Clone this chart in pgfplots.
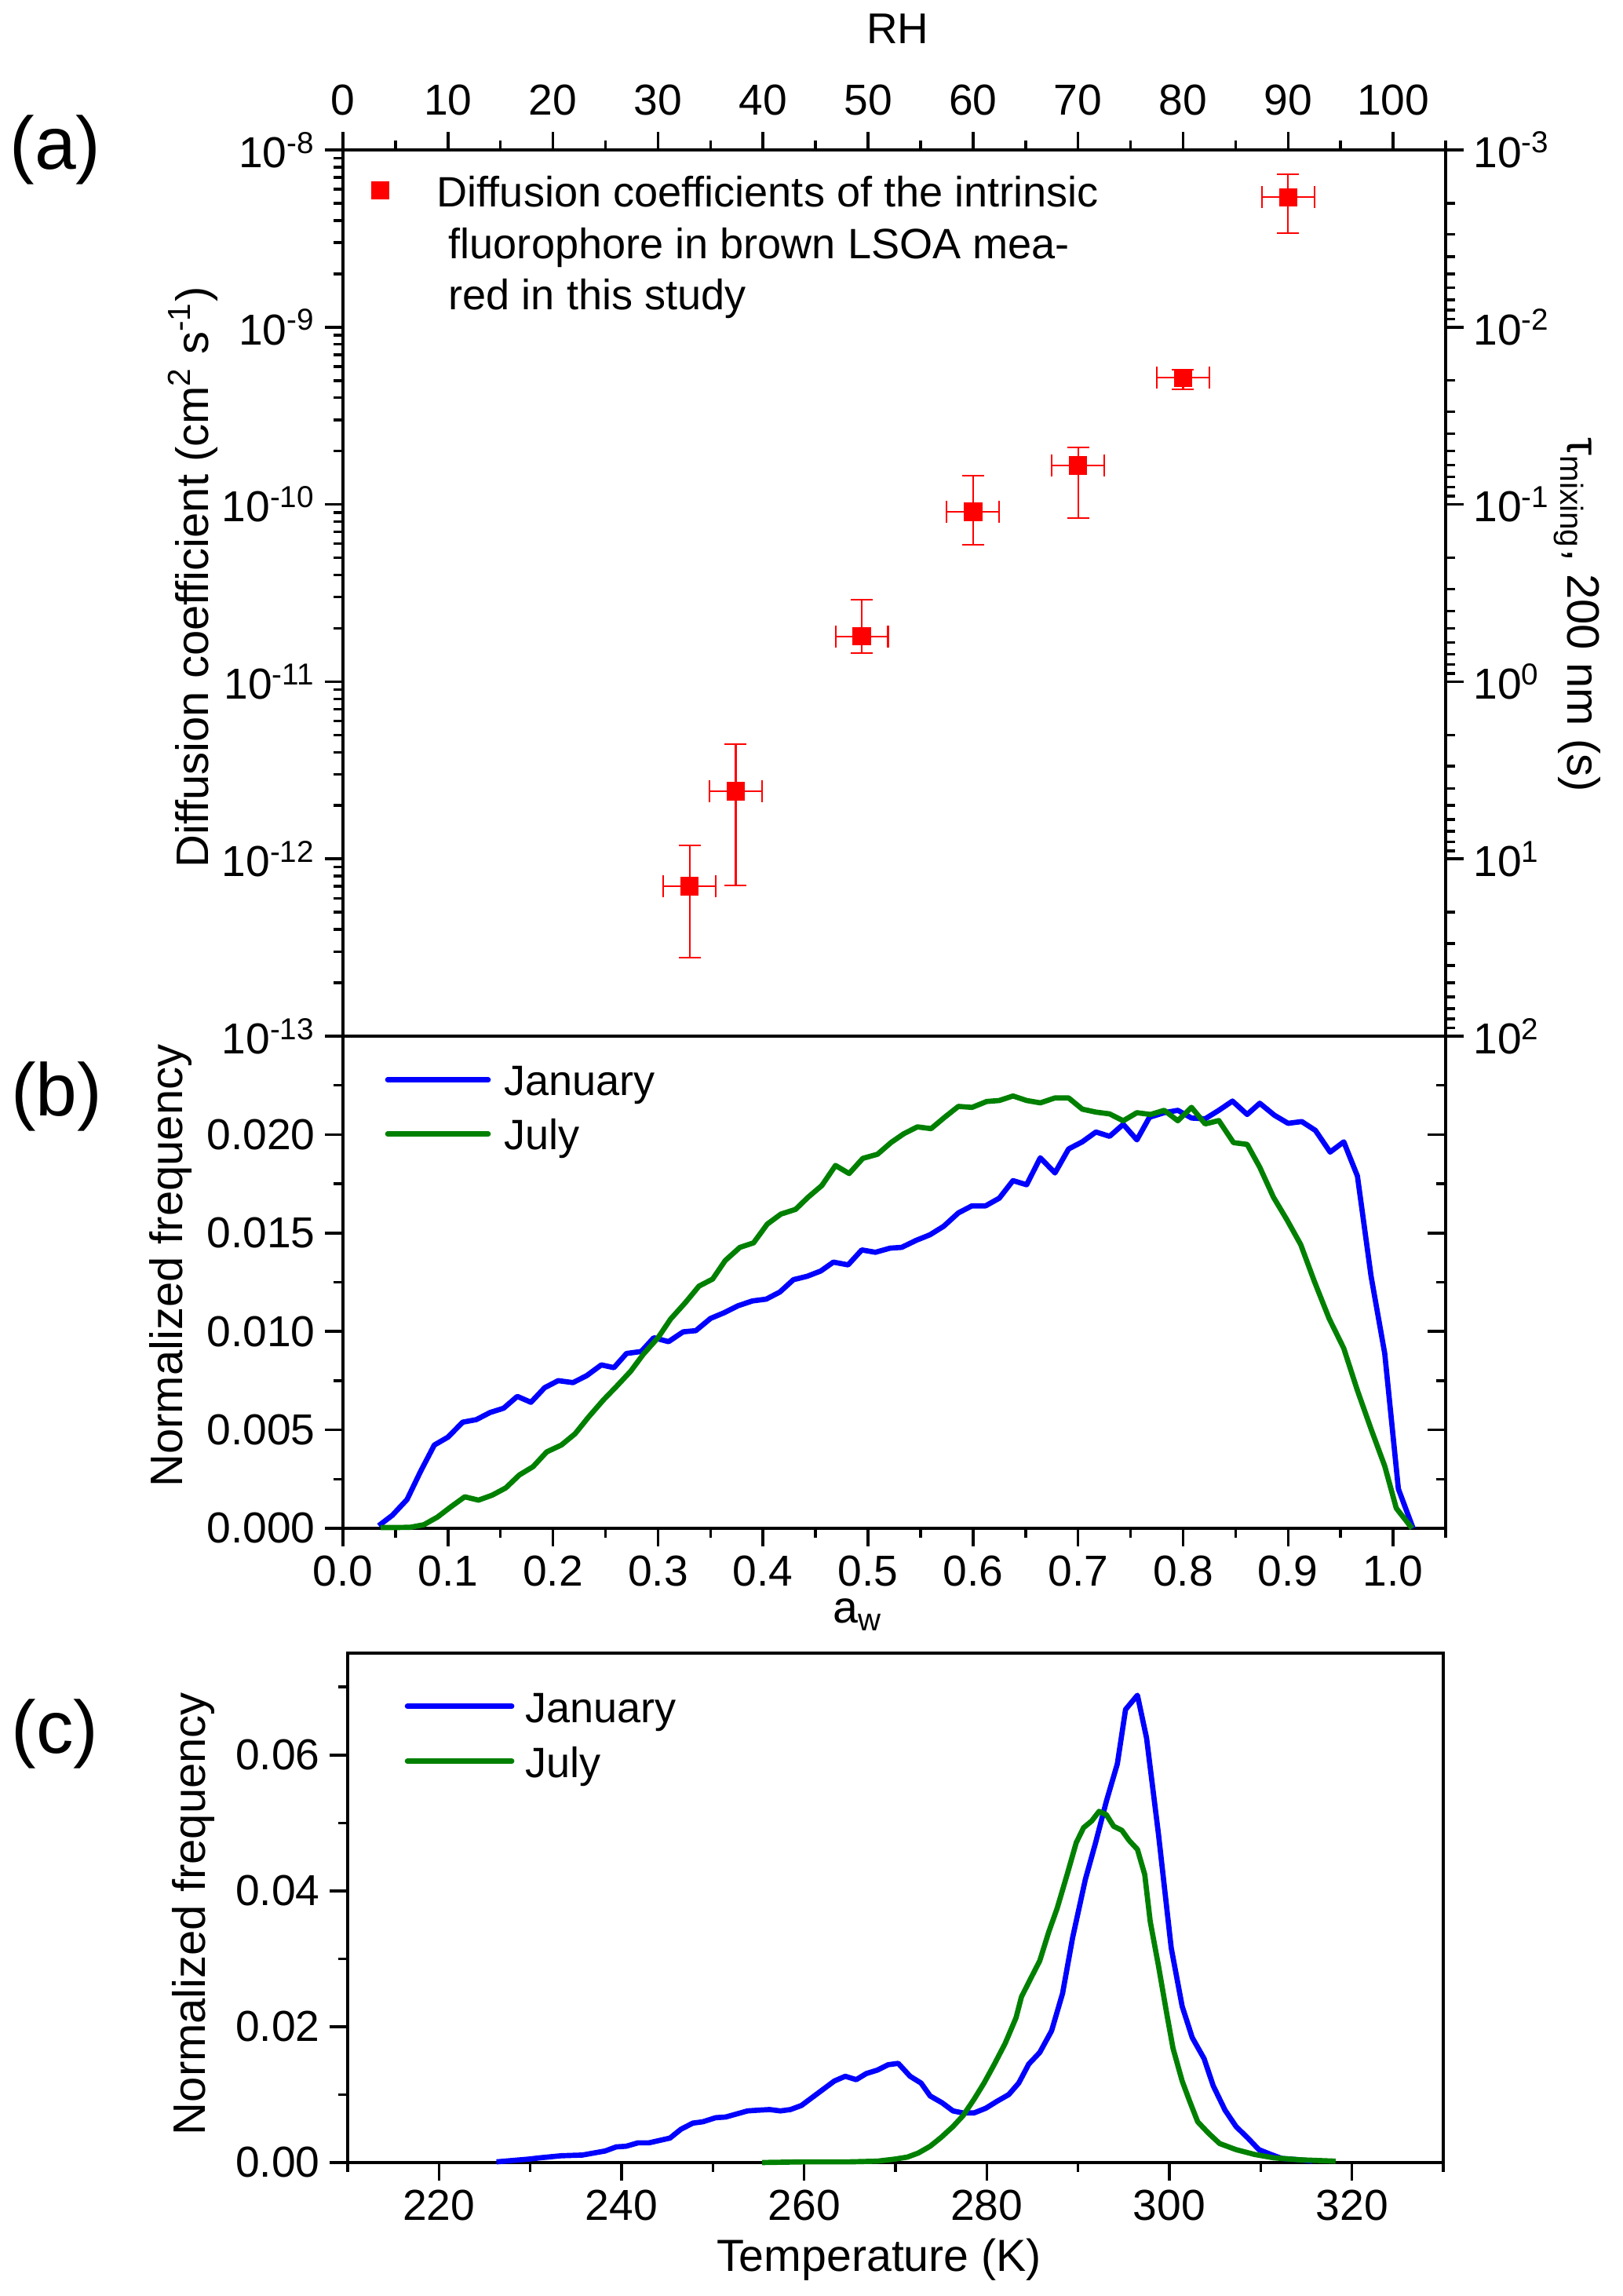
\documentclass[border=0pt]{standalone}
\usepackage{fontspec}
\setmainfont{Liberation Sans}
\usepackage{pgfplots}
\usepackage{pgfplotstable}
\pgfplotsset{compat=1.18}
\definecolor{cblue}{RGB}{0,0,255}
\definecolor{cgreen}{RGB}{0,128,0}
\definecolor{cred}{RGB}{255,0,0}
\newcommand{\tickfont}{\fontsize{15.7}{18}\selectfont}
\newcommand{\labfont}{\fontsize{16.3}{19}\selectfont}
\newcommand{\legfont}{\fontsize{15.4}{18}\selectfont}
\pgfplotsset{
  myaxis/.style={
    scale only axis,
    axis line style={line width=1pt},
    every tick/.append style={line width=1pt, black},
    major tick length=2.3mm,
    minor tick length=1.2mm,
    tick align=outside,
    tick label style={font=\tickfont},
    label style={font=\labfont},
    /pgf/number format/assume math mode=true,
    scaled ticks=false,
    clip=false,
  },
  sqlegend/.style={legend image code/.code={\path[draw=none,fill=none] (0mm,2.1mm) -- (6mm,2.1mm); \draw[##1] plot coordinates {(3mm,2.1mm)};}},
  linelegB/.style={legend image code/.code={\draw[##1, line cap=round] (0mm,2mm) -- (12.8mm,2mm);}},
  linelegC/.style={legend image code/.code={\draw[##1, line cap=round] (0mm,2.05mm) -- (13.3mm,2.05mm);}},
}

\pgfplotstableread{
rh d ex ep em
33.0 7.0e-13 2.5 4.9e-13 4.23e-13
37.4 2.41e-12 2.5 2.04e-12 1.70e-12
49.4 1.80e-11 2.5 1.1e-11 3.5e-12
60.0 9.1e-11 2.5 5.4e-11 3.2e-11
70.0 1.66e-10 2.5 4.4e-11 8.2e-11
80.0 5.18e-10 2.5 5.7e-11 7.1e-11
90.0 5.41e-9 2.5 1.88e-9 2.01e-9
}\tabA

\pgfplotstableread{
aw f
0.034 0.00013
0.047 0.00066
0.061 0.00146
0.074 0.0029
0.087 0.00423
0.100 0.00463
0.114 0.00539
0.127 0.00552
0.140 0.00588
0.153 0.0061
0.166 0.0067
0.179 0.0064
0.192 0.00714
0.205 0.0075
0.219 0.0074
0.232 0.00775
0.246 0.0083
0.258 0.00816
0.270 0.00888
0.284 0.00898
0.296 0.00968
0.310 0.00948
0.324 0.00998
0.336 0.01004
0.350 0.01066
0.363 0.01095
0.376 0.0113
0.390 0.01155
0.403 0.01164
0.416 0.0120
0.429 0.01263
0.442 0.0128
0.455 0.01307
0.467 0.01352
0.481 0.01338
0.494 0.01414
0.507 0.01402
0.521 0.01423
0.532 0.01427
0.546 0.01463
0.559 0.01491
0.572 0.01534
0.586 0.01602
0.599 0.01638
0.612 0.01638
0.625 0.01677
0.638 0.01766
0.651 0.01745
0.664 0.01882
0.678 0.01805
0.691 0.01927
0.704 0.01963
0.717 0.02013
0.730 0.01991
0.743 0.02052
0.756 0.01973
0.768 0.02088
0.782 0.02111
0.795 0.02123
0.808 0.02084
0.821 0.0208
0.834 0.02123
0.847 0.0217
0.861 0.02102
0.873 0.02159
0.887 0.02098
0.900 0.02057
0.913 0.02066
0.926 0.02021
0.940 0.01911
0.953 0.01963
0.966 0.01789
0.979 0.0128
0.992 0.00888
1.005 0.002
1.019 0.0
}\tabBjan

\pgfplotstableread{
aw f
0.036 0.00004
0.051 0.00004
0.064 0.00005
0.077 0.00018
0.090 0.00057
0.103 0.0011
0.116 0.0016
0.129 0.00143
0.142 0.00168
0.155 0.00205
0.168 0.00271
0.181 0.00313
0.194 0.00388
0.208 0.00423
0.221 0.0048
0.234 0.00566
0.248 0.00652
0.260 0.00718
0.274 0.00798
0.286 0.00884
0.300 0.00968
0.312 0.01063
0.326 0.01146
0.339 0.0123
0.352 0.01266
0.364 0.0136
0.378 0.01427
0.391 0.0145
0.404 0.01545
0.417 0.01596
0.431 0.0162
0.443 0.01682
0.456 0.01741
0.469 0.01843
0.482 0.01802
0.495 0.01879
0.509 0.019
0.522 0.0196
0.534 0.02004
0.547 0.02039
0.560 0.0203
0.573 0.02088
0.586 0.02143
0.599 0.02138
0.613 0.02168
0.625 0.02173
0.638 0.02196
0.651 0.02173
0.664 0.02161
0.678 0.02186
0.691 0.02186
0.704 0.02129
0.717 0.02114
0.730 0.02105
0.743 0.0207
0.756 0.02111
0.769 0.02102
0.782 0.02123
0.795 0.0207
0.808 0.02138
0.821 0.02054
0.834 0.02071
0.848 0.01959
0.861 0.0195
0.873 0.01834
0.886 0.01682
0.899 0.01566
0.912 0.01441
0.925 0.01254
0.939 0.01066
0.953 0.00914
0.966 0.007
0.979 0.00504
0.992 0.00316
1.003 0.00102
1.018 0.0
}\tabBjul

\pgfplotstableread{
t f
226.3 0.0001
229.8 0.0005
231.1 0.0007
233.4 0.001
235.7 0.0011
238.2 0.0017
239.4 0.0023
240.5 0.0024
241.8 0.0029
243.0 0.0029
245.3 0.0036
246.5 0.0049
247.8 0.0058
248.9 0.006
250.3 0.0066
251.4 0.0067
253.8 0.0076
254.9 0.0077
256.2 0.0078
257.4 0.0076
258.5 0.0078
259.7 0.0084
260.8 0.0095
262.0 0.0107
263.3 0.012
264.5 0.0127
265.7 0.0122
266.8 0.0131
268.0 0.0136
269.2 0.0144
270.3 0.0146
271.6 0.0127
272.8 0.0117
273.8 0.0098
275.1 0.0088
276.3 0.0076
277.4 0.0073
278.6 0.0073
279.9 0.008
281.1 0.009
282.4 0.01
283.5 0.0117
284.6 0.0145
285.8 0.0162
287.1 0.0194
288.3 0.0249
289.4 0.0331
290.8 0.0417
291.9 0.047
293.1 0.0532
294.3 0.0587
295.2 0.0667
296.5 0.0688
297.5 0.0625
298.8 0.0484
300.2 0.0316
301.4 0.023
302.5 0.0184
303.8 0.0153
304.8 0.0113
306.1 0.0077
307.3 0.0053
308.6 0.0036
309.8 0.0019
311.1 0.0012
312.3 0.0006
314.3 0.0004
315.7 0.0002
}\tabCjan

\pgfplotstableread{
t f
255.4 0.0
260.0 0.0001
265.0 0.0001
268.0 0.0002
269.9 0.0005
271.3 0.0008
272.5 0.0014
273.8 0.0024
275.0 0.0037
276.3 0.0053
277.4 0.0069
278.6 0.0093
279.7 0.0117
280.8 0.0144
282.0 0.0175
283.2 0.0213
283.8 0.0244
284.7 0.0268
285.8 0.0297
286.8 0.034
287.7 0.0374
288.8 0.0424
289.8 0.0471
290.6 0.0493
291.5 0.0503
292.3 0.0517
293.1 0.0512
293.9 0.0495
294.8 0.0489
295.6 0.0474
296.5 0.0461
297.3 0.0424
297.9 0.0355
298.8 0.029
299.7 0.022
300.4 0.0168
301.4 0.012
302.2 0.0091
303.1 0.006
304.3 0.0043
305.5 0.0028
307.3 0.0019
309.3 0.0012
311.4 0.0007
314.3 0.0004
318.2 0.0002
}\tabCjul

\begin{document}
\begin{tikzpicture}
\useasboundingbox (0,0) rectangle (206.7mm,292.5mm);

% ---------------- panel (a) ----------------
\begin{axis}[myaxis,
  at={(43.7mm,273.4mm)}, anchor=north west,
  width=140.5mm, height=112.9mm,
  xmin=0, xmax=105,
  xtick={0,10,20,30,40,50,60,70,80,90,100},
  minor xtick={5,15,25,35,45,55,65,75,85,95,105},
  xtick pos=right, xticklabel pos=right,
  xticklabel style={yshift=0.9mm},
  ymode=log, ymin=1e-13, ymax=1e-8,
  ytick={1e-13,1e-12,1e-11,1e-10,1e-9,1e-8},
  yticklabels={10\textsuperscript{-13},10\textsuperscript{-12},10\textsuperscript{-11},10\textsuperscript{-10},10\textsuperscript{-9},10\textsuperscript{-8}},
  ytick pos=left,
  xlabel={RH},
  xlabel style={at={(axis description cs:0.503,1)}, anchor=base, yshift=13.5mm, font=\fontsize{15.6}{18}\selectfont},
  ylabel={Diffusion coefficient (cm\textsuperscript{2} s\textsuperscript{-1})},
  ylabel style={at={(axis description cs:-0.1224,0.5177)}, anchor=base, font=\fontsize{16.5}{19}\selectfont},
  legend style={at={(axis description cs:0.0121,0.9734)}, anchor=north west,
    draw=none, fill=none, inner sep=0pt, row sep=1.15mm, column sep=4.2mm,
    cells={anchor=base west}, nodes={inner sep=0pt, text height=4.2mm, text depth=1.2mm},
    font=\legfont},
]
\addplot[only marks, mark=square*, mark size=1.1mm, color=cred, sqlegend,
  error bars/.cd, x dir=both, x explicit, y dir=both, y explicit,
  error bar style={line width=0.6pt, color=cred},
  error mark options={rotate=90, line width=0.6pt, mark size=1.4mm, color=cred}]
  table[x=rh, y=d, x error=ex, y error plus=ep, y error minus=em]{\tabA};
\addlegendentry{Diffusion coefficients of the intrinsic}
\addlegendimage{empty legend}
\addlegendentry{\ fluorophore in brown LSOA mea-}
\addlegendimage{empty legend}
\addlegendentry{\ red in this study}
\end{axis}

\begin{axis}[myaxis,
  at={(43.7mm,273.4mm)}, anchor=north west,
  width=140.5mm, height=112.9mm,
  xmin=0, xmax=105, hide x axis,
  axis y line*=right,
  ymode=log, ymin=1e-3, ymax=1e2, y dir=reverse,
  ytick={1e-3,1e-2,1e-1,1e0,1e1,1e2},
  yticklabels={10\textsuperscript{-3},10\textsuperscript{-2},10\textsuperscript{-1},10\textsuperscript{0},10\textsuperscript{1},10\textsuperscript{2}},
  ylabel={τ\textsubscript{mixing}, 200 nm (s)},
  ylabel style={at={(axis description cs:1.111,0.4756)}, anchor=base, rotate=180, font=\fontsize{16.5}{19}\selectfont},
]
\addplot[draw=none, forget plot] coordinates {(50,1)};
\end{axis}

% ---------------- panel (b) ----------------
\begin{axis}[myaxis,
  at={(43.7mm,160.5mm)}, anchor=north west,
  width=140.5mm, height=62.7mm,
  xmin=0, xmax=1.05,
  xtick={0,0.1,0.2,0.3,0.4,0.5,0.6,0.7,0.8,0.9,1.0},
  minor xtick={0.05,0.15,0.25,0.35,0.45,0.55,0.65,0.75,0.85,0.95,1.05},
  xtick pos=left,
  xticklabel style={/pgf/number format/.cd, fixed, fixed zerofill, precision=1},
  ymin=0, ymax=0.025,
  ytick={0,0.005,0.01,0.015,0.02},
  minor ytick={0.0025,0.0075,0.0125,0.0175,0.0225},
  ytick pos=left,
  yticklabel style={/pgf/number format/.cd, fixed, fixed zerofill, precision=3},
  xlabel={a\textsubscript{w}},
  xlabel style={at={(axis description cs:0.4665,0)}, anchor=base, yshift=-12.1mm, inner sep=0pt},
  ylabel={Normalized frequency},
  ylabel style={at={(axis description cs:-0.1452,0.5335)}, anchor=base, font=\fontsize{16.5}{19}\selectfont},
  legend style={at={(axis description cs:0.0377,0.9474)}, anchor=north west,
    draw=none, fill=none, inner sep=0pt, row sep=1.5mm, column sep=1.7mm,
    cells={anchor=base west}, nodes={inner sep=0pt, text height=4.2mm, text depth=1.2mm},
    font=\legfont},
]
\addplot[color=cblue, line width=1.9pt, line join=round, linelegB] table[x=aw, y=f]{\tabBjan};
\addlegendentry{January}
\addplot[color=cgreen, line width=1.9pt, line join=round, linelegB] table[x=aw, y=f]{\tabBjul};
\addlegendentry{July}
\end{axis}

\begin{axis}[myaxis,
  at={(43.7mm,160.5mm)}, anchor=north west,
  width=140.5mm, height=62.7mm,
  xmin=0, xmax=1.05, hide x axis,
  axis y line*=right, tick align=inside,
  ymin=0, ymax=0.025,
  ytick={0,0.005,0.01,0.015,0.02},
  minor ytick={0.0025,0.0075,0.0125,0.0175,0.0225},
  yticklabels={},
]
\addplot[draw=none, forget plot] coordinates {(0.5,0.01)};
\end{axis}

% ---------------- panel (c) ----------------
\begin{axis}[myaxis,
  at={(44.3mm,81.9mm)}, anchor=north west,
  width=139.6mm, height=64.9mm,
  xmin=210, xmax=330,
  xtick={220,240,260,280,300,320},
  minor xtick={210,230,250,270,290,310,330},
  xtick pos=left,
  ymin=0, ymax=0.075,
  ytick={0,0.02,0.04,0.06},
  minor ytick={0.01,0.03,0.05,0.07},
  ytick pos=left,
  yticklabel style={/pgf/number format/.cd, fixed, fixed zerofill, precision=2},
  xlabel={Temperature (K)},
  xlabel style={at={(axis description cs:0.485,0)}, anchor=base, yshift=-13.9mm},
  ylabel={Normalized frequency},
  ylabel style={at={(axis description cs:-0.1297,0.4884)}, anchor=base, font=\fontsize{16.5}{19}\selectfont},
  legend style={at={(axis description cs:0.0516,0.9299)}, anchor=north west,
    draw=none, fill=none, inner sep=0pt, row sep=1.6mm, column sep=1.4mm,
    cells={anchor=base west}, nodes={inner sep=0pt, text height=4.2mm, text depth=1.2mm},
    font=\legfont},
]
\addplot[color=cblue, line width=1.9pt, line join=round, linelegC] table[x=t, y=f]{\tabCjan};
\addlegendentry{January}
\addplot[color=cgreen, line width=1.9pt, line join=round, linelegC] table[x=t, y=f]{\tabCjul};
\addlegendentry{July}
\end{axis}

% panel letters
\node[font=\fontsize{27}{30}\selectfont, anchor=center] at (7.05mm,273.4mm) {(a)};
\node[font=\fontsize{27}{30}\selectfont, anchor=center] at (7.2mm,152.8mm) {(b)};
\node[font=\fontsize{27}{30}\selectfont, anchor=center] at (7.0mm,71.6mm) {(c)};
\end{tikzpicture}
\end{document}
